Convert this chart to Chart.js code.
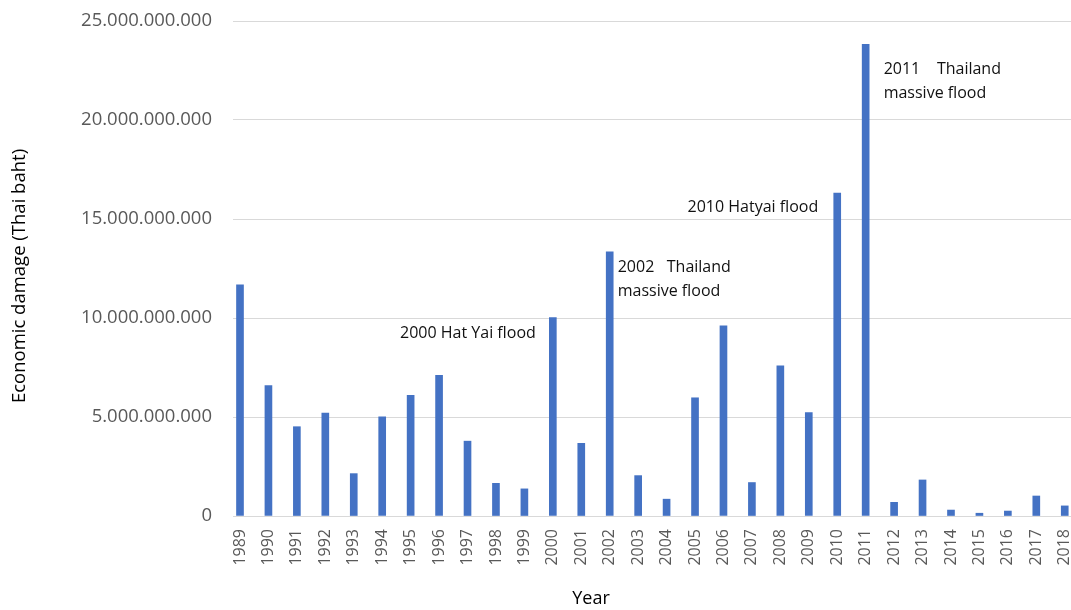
<!DOCTYPE html>
<html>
<head>
<meta charset="utf-8">
<title>Economic damage from floods in Thailand, 1989–2018</title>
<script src="https://cdn.jsdelivr.net/npm/chart.js@4/dist/chart.umd.min.js"></script>
<style>
  html, body { margin: 0; padding: 0; background: #ffffff; overflow: hidden; }
  #wrap { width: 1071px; height: 610px; }
</style>
</head>
<body>
<div id="wrap"><canvas id="chart" width="1071" height="610"></canvas></div>
<script>
// Flood years and economic damage (Thai baht)
const years = [1989, 1990, 1991, 1992, 1993, 1994, 1995, 1996, 1997, 1998,
               1999, 2000, 2001, 2002, 2003, 2004, 2005, 2006, 2007, 2008,
               2009, 2010, 2011, 2012, 2013, 2014, 2015, 2016, 2017, 2018];

const damage = [11.67e9, 6.59e9, 4.51e9, 5.20e9, 2.14e9, 5.01e9, 6.09e9, 7.11e9, 3.78e9, 1.65e9,
                1.37e9, 10.02e9, 3.67e9, 13.34e9, 2.04e9, 0.85e9, 5.97e9, 9.60e9, 1.69e9, 7.58e9,
                5.22e9, 16.31e9, 23.82e9, 0.69e9, 1.82e9, 0.30e9, 0.14e9, 0.25e9, 1.01e9, 0.51e9];

const yTicks = [0, 5e9, 10e9, 15e9, 20e9, 25e9];

// Notable flood events labelled next to their bars
const eventYears = [2000, 2002, 2010, 2011];
const eventLines = [
  ['2000 Hat Yai flood'],
  ['2002   Thailand', 'massive flood'],
  ['2010 Hatyai flood'],
  ['2011    Thailand', 'massive flood']
];

const yTitle = 'Economic damage (Thai baht)';
const xTitle = 'Year';

const FONT = "'Open Sans', 'Noto Sans', sans-serif";

function formatDots(v) {
  return String(Math.round(v)).replace(/\B(?=(\d{3})+(?!\d))/g, '.');
}

// Event label placement relative to each bar (side, dx, baseline offset from bar top)
const eventPlacement = {
  2000: { align: 'right', dx: -17, dy: 20 },
  2002: { align: 'left',  dx: 8,   dy: 20 },
  2010: { align: 'right', dx: -19, dy: 19 },
  2011: { align: 'left',  dx: 18,  dy: 30 }
};

const labelsPlugin = {
  id: 'floodLabels',
  afterDraw(chart) {
    const { ctx, scales: { x, y } } = chart;
    ctx.save();
    // event notes
    ctx.fillStyle = '#111111';
    ctx.font = '16px ' + FONT;
    ctx.textBaseline = 'alphabetic';
    eventYears.forEach((yr, i) => {
      const idx = years.indexOf(yr);
      const px = x.getPixelForValue(yr);
      const py = y.getPixelForValue(damage[idx]);
      const p = eventPlacement[yr];
      ctx.textAlign = p.align;
      eventLines[i].forEach((line, j) => {
        ctx.fillText(line, px + p.dx, py + p.dy + j * 24);
      });
    });
    // axis titles
    ctx.fillStyle = '#000000';
    ctx.font = '18px ' + FONT;
    ctx.textAlign = 'center';
    ctx.textBaseline = 'alphabetic';
    ctx.fillText(xTitle, 591, 604);
    ctx.translate(20, 276);
    ctx.rotate(-Math.PI / 2);
    ctx.textBaseline = 'middle';
    ctx.font = '18.5px ' + FONT;
    ctx.fillText(yTitle, 0, 0);
    ctx.restore();
  }
};

new Chart(document.getElementById('chart'), {
  type: 'bar',
  data: {
    datasets: [{
      data: years.map((yr, i) => ({ x: yr, y: damage[i] })),
      backgroundColor: '#4472C4',
      borderWidth: 0,
      barThickness: 7
    }]
  },
  options: {
    responsive: false,
    animation: false,
    events: [],
    layout: { padding: { left: 0, right: 0, top: 21, bottom: 0 } },
    plugins: {
      legend: { display: false },
      tooltip: { enabled: false },
      title: { display: false }
    },
    scales: {
      x: {
        type: 'linear',
        offset: false,
        min: 1988.754,
        max: 2018.22,
        grid: { display: false, drawTicks: false },
        border: { display: false },
        afterBuildTicks: (axis) => { axis.ticks = years.map(v => ({ value: v })); },
        afterFit: (scale) => { scale.height = 94; scale.paddingLeft = 0; scale.paddingRight = 0; },
        ticks: {
          autoSkip: false,
          minRotation: 90,
          maxRotation: 90,
          padding: 13,
          color: '#595959',
          font: { family: FONT, size: 16 },
          callback: (v) => String(v)
        }
      },
      y: {
        min: 0,
        max: 25e9,
        grid: { color: '#d9d9d9', lineWidth: 1, drawTicks: false },
        border: { display: false },
        afterBuildTicks: (axis) => { axis.ticks = yTicks.map(v => ({ value: v })); },
        afterFit: (scale) => { scale.width = 233; scale.paddingTop = 0; scale.paddingBottom = 0; },
        ticks: {
          padding: 21,
          color: '#595959',
          font: { family: FONT, size: 18.5 },
          callback: (v) => formatDots(v)
        }
      }
    }
  },
  plugins: [labelsPlugin]
});
</script>
</body>
</html>
